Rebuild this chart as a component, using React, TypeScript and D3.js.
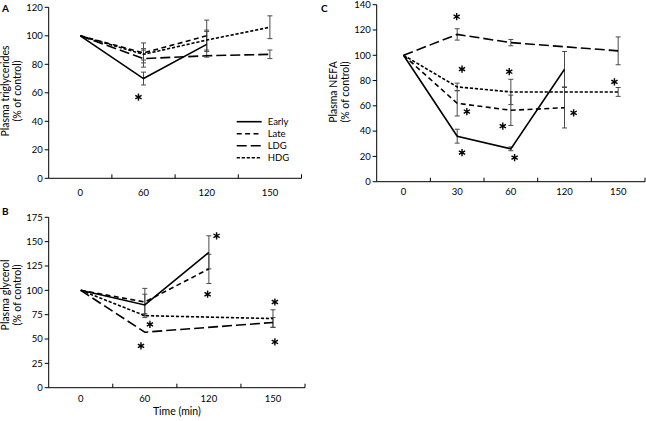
import React from "react";
import * as d3 from "d3";

// ---------- data ----------
const catsAB = ["0", "60", "120", "150"];
const catsC = ["0", "30", "60", "120", "150"];
const seriesNames = ["Early", "Late", "LDG", "HDG"];

// Panel A: plasma triglycerides (% of control)
const aEarly = [100, 70, 94, null];
const aEarlyErr = [0, 4.5, 9, null];
const aLate = [100, 88, 100, null];
const aLateErr = [0, 7, 11, null];
const aLDG = [100, 84, 86, 87];
const aLDGErr = [0, 6, 0, 3];
const aHDG = [100, 87, 97, 106];
const aHDGErr = [0, 4, 7, 8];
const aTicks = [0, 20, 40, 60, 80, 100, 120];

// Panel B: plasma glycerol
const bEarly = [100, 85, 139, null];
const bEarlyErr = [0, 11, 17, null];
const bLate = [100, 88, 122, null];
const bLateErr = [0, 14, 15, null];
const bLDG = [100, 57, null, 67];
const bLDGErr = [0, 0, null, 5];
const bHDG = [100, 74, null, 71];
const bHDGErr = [0, 2, null, 9];
const bTicks = [0, 25, 50, 75, 100, 125, 150, 175];

// Panel C: plasma NEFA
const cEarly = [100, 36, 26, 89, null];
const cEarlyErr = [0, 5.5, 1.5, 14, null];
const cLate = [100, 62, 56.5, 58.5, null];
const cLateErr = [0, 10, 12, 16, null];
const cLDG = [100, 116.5, 110, null, 103.5];
const cLDGErr = [0, 4.5, 2.5, null, 11];
const cHDG = [100, 75, 71, null, 71];
const cHDGErr = [0, 3, 10, null, 3.5];
const cTicks = [0, 20, 40, 60, 80, 100, 120, 140];

// significance asterisks: category index, fractional offset in category widths, value
const aStars = [{ i: 1, off: -0.08, v: 57 }];
const bStars = [
  { i: 2, off: 0.12, v: 156 },
  { i: 2, off: -0.02, v: 96 },
  { i: 1, off: 0.08, v: 65 },
  { i: 1, off: -0.06, v: 43 },
  { i: 3, off: 0.03, v: 88 },
  { i: 3, off: 0.03, v: 47 },
];
const cStars = [
  { i: 1, off: -0.01, v: 130.5 },
  { i: 1, off: 0.09, v: 89 },
  { i: 1, off: 0.18, v: 55.5 },
  { i: 1, off: 0.09, v: 23 },
  { i: 2, off: -0.03, v: 87 },
  { i: 2, off: -0.15, v: 44 },
  { i: 2, off: 0.07, v: 19 },
  { i: 3, off: 0.17, v: 54.5 },
  { i: 4, off: -0.07, v: 79 },
];

// ---------- styles ----------
const FONT = "Lato, 'Liberation Sans', sans-serif";
const dashes: Record<string, string> = {
  Early: "none",
  Late: "5,3.4",
  LDG: "10,4",
  HDG: "3.2,1.8",
};

type Series = { name: string; vals: (number | null)[]; errs: (number | null)[] };

// six-armed asterisk marker path
const starPath = (() => {
  const r = 3.6;
  const parts: string[] = [];
  for (let k = 0; k < 3; k++) {
    const a = Math.PI / 2 + (k * Math.PI) / 3;
    const dx = r * Math.cos(a);
    const dy = r * Math.sin(a);
    parts.push(`M${(-dx).toFixed(2)},${(-dy).toFixed(2)}L${dx.toFixed(2)},${dy.toFixed(2)}`);
  }
  return parts.join("");
})();

function Panel(props: {
  cats: string[];
  x0: number;
  x1: number;
  yTop: number;
  yBot: number;
  ticks: number[];
  series: Series[];
  stars: { i: number; off: number; v: number }[];
  letter: string;
  letterX: number;
  letterY: number;
  label1: string;
  label2: string;
  labelX: number;
  labelY: number;
  tickLabelY: number;
  xTitle?: string;
}) {
  const p = props;
  const x = d3.scaleBand<string>().domain(p.cats).range([p.x0, p.x1]);
  const yMax = p.ticks[p.ticks.length - 1];
  const y = d3.scaleLinear().domain([0, yMax]).range([p.yBot, p.yTop]);
  const cx = (i: number) => (x(p.cats[i]) as number) + x.bandwidth() / 2;
  const line = d3
    .line<[number, number]>()
    .x((d) => d[0])
    .y((d) => d[1]);
  const boundaries = p.cats.map((c) => (x(c) as number) + x.bandwidth());

  return (
    <g>
      {/* error bars */}
      {p.series.map((s) =>
        s.vals.map((v, i) => {
          const e = s.errs[i];
          if (v == null || !e) return null;
          const xx = cx(i);
          return (
            <g key={s.name + i} stroke="#4a4a4a" strokeWidth={1}>
              <line x1={xx} x2={xx} y1={y(v - e)} y2={y(v + e)} />
              <line x1={xx - 2.5} x2={xx + 2.5} y1={y(v - e)} y2={y(v - e)} />
              <line x1={xx - 2.5} x2={xx + 2.5} y1={y(v + e)} y2={y(v + e)} />
            </g>
          );
        })
      )}
      {/* series lines */}
      {p.series.map((s) => {
        const pts: [number, number][] = [];
        s.vals.forEach((v, i) => {
          if (v != null) pts.push([cx(i), y(v)]);
        });
        return (
          <path
            key={s.name}
            d={line(pts) as string}
            fill="none"
            stroke="#000"
            strokeWidth={1.6}
            strokeDasharray={dashes[s.name]}
          />
        );
      })}
      {/* axes */}
      <line x1={p.x0} x2={p.x0} y1={p.yTop} y2={p.yBot} stroke="#000" strokeWidth={1} />
      <line x1={p.x0} x2={p.x1} y1={p.yBot} y2={p.yBot} stroke="#000" strokeWidth={1} />
      {p.ticks.map((t) => (
        <g key={"yt" + t}>
          <line x1={p.x0 - 4} x2={p.x0} y1={y(t)} y2={y(t)} stroke="#000" strokeWidth={1} />
          <text
            x={p.x0 - 6}
            y={y(t)}
            dy="0.35em"
            textAnchor="end"
            fontSize={9.5}
            fontFamily={FONT}
            fill="#000"
          >
            {t}
          </text>
        </g>
      ))}
      {boundaries.map((b, i) => (
        <line key={"xt" + i} x1={b} x2={b} y1={p.yBot} y2={p.yBot - 4} stroke="#000" strokeWidth={1} />
      ))}
      {p.cats.map((c, i) => (
        <text
          key={"xl" + c}
          x={cx(i)}
          y={p.tickLabelY}
          textAnchor="middle"
          fontSize={9.5}
          fontFamily={FONT}
          fill="#000"
        >
          {c}
        </text>
      ))}
      {/* asterisks */}
      {p.stars.map((s, k) => (
        <path
          key={"st" + k}
          transform={`translate(${cx(s.i) + s.off * x.bandwidth()},${y(s.v)})`}
          d={starPath}
          stroke="#000"
          strokeWidth={1.4}
          fill="none"
        />
      ))}
      {/* y label */}
      <text
        transform={`translate(${p.labelX},${p.labelY}) rotate(-90)`}
        textAnchor="middle"
        fontSize={10.5}
        fontFamily={FONT}
        fill="#000"
      >
        {p.label1}
      </text>
      <text
        transform={`translate(${p.labelX + 12},${p.labelY}) rotate(-90)`}
        textAnchor="middle"
        fontSize={10.5}
        fontFamily={FONT}
        fill="#000"
      >
        {p.label2}
      </text>
      <text x={p.letterX} y={p.letterY} fontSize={10} fontWeight="bold" fontFamily={FONT} fill="#000">
        {p.letter}
      </text>
      {p.xTitle && (
        <text
          x={(p.x0 + p.x1) / 2}
          y={p.tickLabelY + 13}
          textAnchor="middle"
          fontSize={10.5}
          fontFamily={FONT}
          fill="#000"
        >
          {p.xTitle}
        </text>
      )}
    </g>
  );
}

function Legend({ x, y }: { x: number; y: number }) {
  return (
    <g>
      {seriesNames.map((n, i) => (
        <g key={n} transform={`translate(${x},${y + i * 12})`}>
          <line x1={0} x2={25} y1={0} y2={0} stroke="#000" strokeWidth={1.6} strokeDasharray={dashes[n]} />
          <text x={31} y={0} dy="0.35em" fontSize={9.5} fontFamily={FONT} fill="#000">
            {n}
          </text>
        </g>
      ))}
    </g>
  );
}

export default function App() {
  const mk = (vals: (number | null)[][], errs: (number | null)[][]): Series[] =>
    seriesNames.map((n, i) => ({ name: n, vals: vals[i], errs: errs[i] }));

  return (
    <svg
      width={646}
      height={421}
      style={{ position: "absolute", left: 0, top: 0, background: "#fff" }}
    >
      <rect width={646} height={421} fill="#fff" />
      <Panel
        cats={catsAB}
        x0={48.7}
        x1={301.5}
        yTop={7.3}
        yBot={178.3}
        ticks={aTicks}
        series={mk([aEarly, aLate, aLDG, aHDG], [aEarlyErr, aLateErr, aLDGErr, aHDGErr])}
        stars={aStars}
        letter="A"
        letterX={2}
        letterY={12}
        label1="Plasma triglycerides"
        label2="(% of control)"
        labelX={8.5}
        labelY={91}
        tickLabelY={196}
      />
      <Legend x={236.7} y={121.7} />
      <Panel
        cats={catsAB}
        x0={48.7}
        x1={305}
        yTop={217.3}
        yBot={387.7}
        ticks={bTicks}
        series={mk([bEarly, bLate, bLDG, bHDG], [bEarlyErr, bLateErr, bLDGErr, bHDGErr])}
        stars={bStars}
        letter="B"
        letterX={2}
        letterY={215}
        label1="Plasma glycerol"
        label2="(% of control)"
        labelX={8.5}
        labelY={295}
        tickLabelY={401.5}
        xTitle="Time (min)"
      />
      <Panel
        cats={catsC}
        x0={376.7}
        x1={645}
        yTop={4.7}
        yBot={181.7}
        ticks={cTicks}
        series={mk([cEarly, cLate, cLDG, cHDG], [cEarlyErr, cLateErr, cLDGErr, cHDGErr])}
        stars={cStars}
        letter="C"
        letterX={321}
        letterY={12}
        label1="Plasma NEFA"
        label2="(% of control)"
        labelX={336.5}
        labelY={92}
        tickLabelY={195}
      />
    </svg>
  );
}
